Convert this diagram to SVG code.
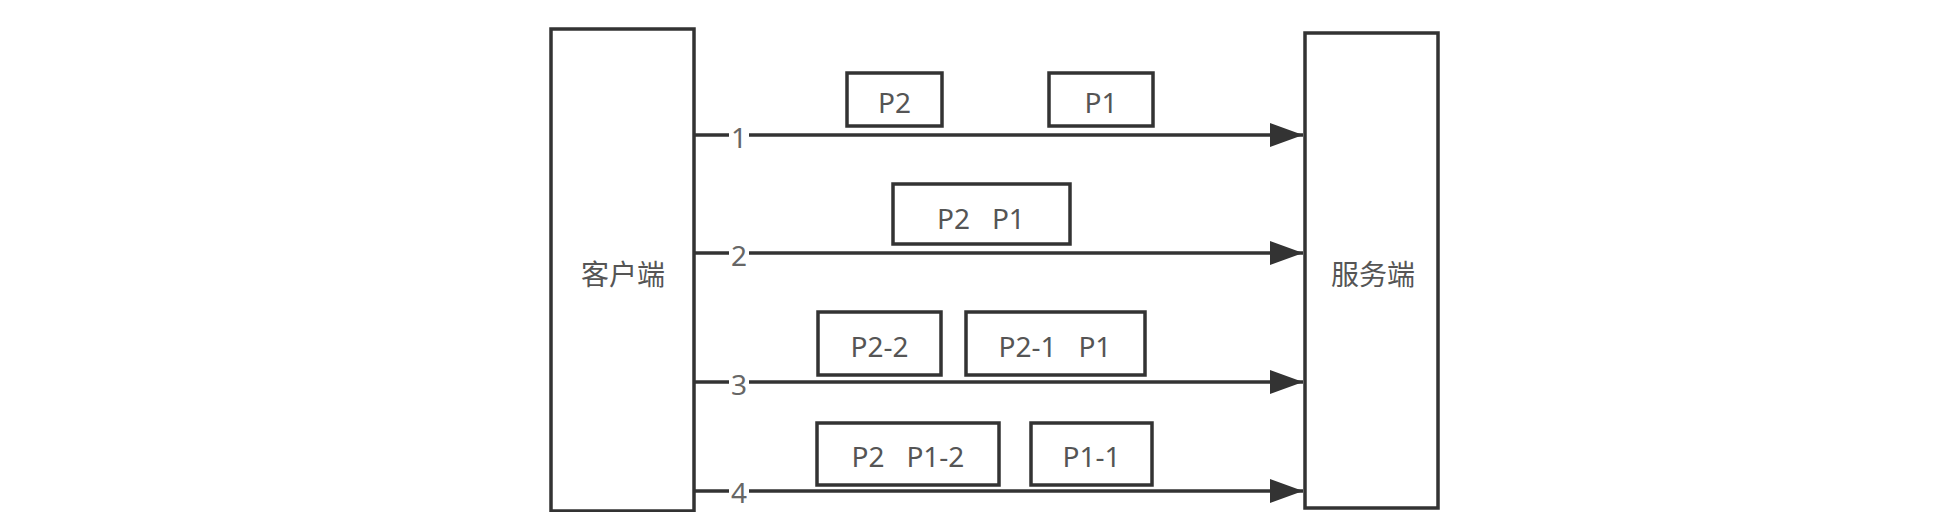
<svg xmlns="http://www.w3.org/2000/svg" width="1956" height="512" viewBox="0 0 1956 512">
  <style>
    .node { fill: #ffffff; stroke: #333333; stroke-width: 3.5; }
    .pkt { fill: #ffffff; stroke: #333333; stroke-width: 3.5; }
    .txt { font-family: "Noto Sans", "Open Sans", "Noto Sans CJK SC", sans-serif; font-size: 28px; fill: #555555; text-anchor: middle; }
    .cjk { font-family: "Noto Sans CJK SC", "Noto Sans", sans-serif; font-size: 28px; fill: #555555; text-anchor: middle; }
    .edge { stroke: #333333; stroke-width: 3.5; fill: none; }
    .lblbg { fill: #ffffff; stroke: none; }
    .lbl { font-family: "Noto Sans", "Open Sans", sans-serif; font-size: 28px; fill: #666666; text-anchor: middle; }
  </style>
  <defs>
    <marker id="arrow" markerUnits="userSpaceOnUse" markerWidth="34" markerHeight="26" refX="33" refY="12" orient="auto">
      <path d="M0,0 L33,12 L0,24 Z" fill="#333333"/>
    </marker>
  </defs>
  <rect x="0" y="0" width="1956" height="512" fill="#ffffff"/>

  <g id="client">
    <rect class="node" x="551" y="29" width="143" height="482"/>
    <text class="cjk" x="623" y="285">客户端</text>
  </g>
  <g id="server">
    <rect class="node" x="1305" y="33" width="133" height="475"/>
    <text class="cjk" x="1373" y="285">服务端</text>
  </g>

  <g id="connectors">
    <line class="edge" x1="694" y1="135" x2="1303" y2="135" marker-end="url(#arrow)"/>
    <rect class="lblbg" x="729" y="122" width="20" height="28"/>
    <text class="lbl" x="739" y="148">1</text>

    <line class="edge" x1="694" y1="253" x2="1303" y2="253" marker-end="url(#arrow)"/>
    <rect class="lblbg" x="729" y="240" width="20" height="28"/>
    <text class="lbl" x="739" y="266">2</text>

    <line class="edge" x1="694" y1="382" x2="1303" y2="382" marker-end="url(#arrow)"/>
    <rect class="lblbg" x="729" y="369" width="20" height="28"/>
    <text class="lbl" x="739" y="395">3</text>

    <line class="edge" x1="694" y1="491" x2="1303" y2="491" marker-end="url(#arrow)"/>
    <rect class="lblbg" x="729" y="478" width="20" height="28"/>
    <text class="lbl" x="739" y="503">4</text>
  </g>

  <g id="pkt-1-p2">
    <rect class="pkt" x="847" y="73" width="95" height="53"/>
    <text class="txt" x="894.5" y="113">P2</text>
  </g>
  <g id="pkt-1-p1">
    <rect class="pkt" x="1049" y="73" width="104" height="53"/>
    <text class="txt" x="1101" y="113">P1</text>
  </g>

  <g id="pkt-2-p2p1">
    <rect class="pkt" x="893" y="184" width="177" height="60"/>
    <text class="txt" x="981" y="229" xml:space="preserve">P2   P1</text>
  </g>

  <g id="pkt-3-p2-2">
    <rect class="pkt" x="818" y="312" width="123" height="63"/>
    <text class="txt" x="879.5" y="357">P2-2</text>
  </g>
  <g id="pkt-3-p2-1p1">
    <rect class="pkt" x="966" y="312" width="179" height="63"/>
    <text class="txt" x="1055" y="357" xml:space="preserve">P2-1   P1</text>
  </g>

  <g id="pkt-4-p2p1-2">
    <rect class="pkt" x="817" y="423" width="182" height="62"/>
    <text class="txt" x="908" y="467" xml:space="preserve">P2   P1-2</text>
  </g>
  <g id="pkt-4-p1-1">
    <rect class="pkt" x="1031" y="423" width="121" height="62"/>
    <text class="txt" x="1091.5" y="467">P1-1</text>
  </g>
</svg>
